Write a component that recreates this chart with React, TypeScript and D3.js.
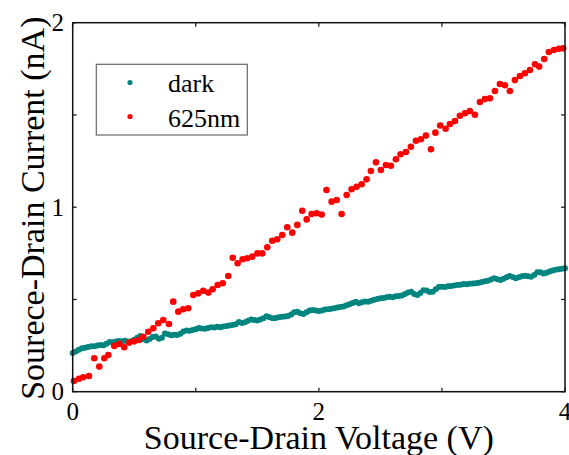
import React from "react";
import * as d3 from "d3";

const xTicksMajor = [0, 2, 4];
const xTicksAll = [0, 1, 2, 3, 4];
const yTicksMajor = [0, 1, 2];
const yTicksAll = [0, 0.5, 1, 1.5, 2];

const redVoltage = [
  0.01, 0.051, 0.086, 0.132, 0.175, 0.216, 0.257, 0.289, 0.338, 0.379,
  0.419, 0.46, 0.5, 0.539, 0.574, 0.614, 0.655, 0.695, 0.736, 0.782,
  0.817, 0.858, 0.898, 0.939, 0.98, 1.02, 1.061, 1.102, 1.137, 1.178,
  1.219, 1.264, 1.3, 1.34, 1.381, 1.418, 1.459, 1.5, 1.54, 1.581,
  1.621, 1.662, 1.703, 1.743, 1.784, 1.825, 1.865, 1.901, 1.941, 1.982,
  2.023, 2.062, 2.104, 2.145, 2.185, 2.226, 2.266, 2.307, 2.348, 2.388,
  2.423, 2.464, 2.504, 2.545, 2.585, 2.626, 2.664, 2.708, 2.748, 2.789,
  2.829, 2.87, 2.911, 2.947, 2.986, 3.03, 3.065, 3.106, 3.146, 3.187,
  3.227, 3.268, 3.309, 3.349, 3.39, 3.431, 3.471, 3.512, 3.552, 3.593,
  3.634, 3.674, 3.715, 3.756, 3.79, 3.831, 3.869, 3.91, 3.951, 3.985,
];
const redCurrent = [
  0.058, 0.07, 0.078, 0.085, 0.181, 0.136, 0.181, 0.199, 0.248, 0.259,
  0.241, 0.266, 0.273, 0.28, 0.298, 0.325, 0.344, 0.371, 0.389, 0.367,
  0.488, 0.434, 0.447, 0.452, 0.524, 0.533, 0.547, 0.537, 0.555, 0.578,
  0.588, 0.627, 0.726, 0.696, 0.718, 0.723, 0.732, 0.75, 0.75, 0.783,
  0.818, 0.826, 0.849, 0.891, 0.862, 0.904, 0.981, 0.934, 0.963, 0.967,
  0.96, 1.093, 1.03, 1.039, 0.963, 1.066, 1.097, 1.111, 1.124, 1.151,
  1.196, 1.243, 1.202, 1.229, 1.225, 1.26, 1.287, 1.299, 1.328, 1.36,
  1.368, 1.388, 1.314, 1.404, 1.443, 1.425, 1.451, 1.467, 1.496, 1.509,
  1.521, 1.501, 1.57, 1.586, 1.59, 1.63, 1.668, 1.661, 1.63, 1.689,
  1.711, 1.726, 1.744, 1.775, 1.762, 1.803, 1.841, 1.852, 1.859, 1.861,
];

const darkVoltage = [
  0.0, 0.025, 0.05, 0.075, 0.1, 0.125, 0.15, 0.175, 0.2, 0.225,
  0.25, 0.275, 0.3, 0.325, 0.35, 0.375, 0.4, 0.425, 0.45, 0.475,
  0.5, 0.525, 0.55, 0.575, 0.6, 0.625, 0.65, 0.675, 0.7, 0.725,
  0.75, 0.775, 0.8, 0.825, 0.85, 0.875, 0.9, 0.925, 0.95, 0.975,
  1.0, 1.025, 1.05, 1.075, 1.1, 1.125, 1.15, 1.175, 1.2, 1.225,
  1.25, 1.275, 1.3, 1.325, 1.35, 1.375, 1.4, 1.425, 1.45, 1.475,
  1.5, 1.525, 1.55, 1.575, 1.6, 1.625, 1.65, 1.675, 1.7, 1.725,
  1.75, 1.775, 1.8, 1.825, 1.85, 1.875, 1.9, 1.925, 1.95, 1.975,
  2.0, 2.025, 2.05, 2.075, 2.1, 2.125, 2.15, 2.175, 2.2, 2.225,
  2.25, 2.275, 2.3, 2.325, 2.35, 2.375, 2.4, 2.425, 2.45, 2.475,
  2.5, 2.525, 2.55, 2.575, 2.6, 2.625, 2.65, 2.675, 2.7, 2.725,
  2.75, 2.775, 2.8, 2.825, 2.85, 2.875, 2.9, 2.925, 2.95, 2.975,
  3.0, 3.025, 3.05, 3.075, 3.1, 3.125, 3.15, 3.175, 3.2, 3.225,
  3.25, 3.275, 3.3, 3.325, 3.35, 3.375, 3.4, 3.425, 3.45, 3.475,
  3.5, 3.525, 3.55, 3.575, 3.6, 3.625, 3.65, 3.675, 3.7, 3.725,
  3.75, 3.775, 3.8, 3.825, 3.85, 3.875, 3.9, 3.925, 3.95, 3.975,
  4.0,
];
const darkCurrent = [
  0.21, 0.218, 0.228, 0.235, 0.238, 0.242, 0.247, 0.246, 0.25, 0.253,
  0.252, 0.26, 0.27, 0.268, 0.272, 0.275, 0.273, 0.276, 0.271, 0.274,
  0.281, 0.293, 0.302, 0.284, 0.278, 0.286, 0.296, 0.299, 0.287, 0.292,
  0.316, 0.312, 0.306, 0.309, 0.307, 0.314, 0.326, 0.332, 0.33, 0.335,
  0.338, 0.345, 0.343, 0.341, 0.345, 0.35, 0.348, 0.352, 0.35, 0.353,
  0.356, 0.359, 0.362, 0.366, 0.378, 0.372, 0.376, 0.385, 0.392, 0.388,
  0.386, 0.392, 0.398, 0.409, 0.404, 0.398, 0.399, 0.404, 0.406, 0.408,
  0.41, 0.418, 0.43, 0.434, 0.425, 0.421, 0.43, 0.44, 0.443, 0.44,
  0.438, 0.44, 0.445, 0.447, 0.449, 0.452, 0.456, 0.459, 0.462, 0.468,
  0.474, 0.481, 0.488, 0.48, 0.485, 0.489, 0.487, 0.493, 0.498, 0.502,
  0.506, 0.508, 0.512, 0.515, 0.512, 0.517, 0.519, 0.522, 0.53, 0.538,
  0.542, 0.53, 0.524, 0.535, 0.55, 0.548, 0.54, 0.542, 0.555, 0.568,
  0.569, 0.567, 0.571, 0.573, 0.575, 0.578, 0.58, 0.584, 0.582, 0.585,
  0.587, 0.588, 0.591, 0.595, 0.598, 0.602, 0.608, 0.615, 0.61, 0.605,
  0.612, 0.62, 0.627, 0.622, 0.615, 0.62, 0.626, 0.629, 0.626, 0.623,
  0.632, 0.648, 0.647, 0.641, 0.645, 0.652, 0.657, 0.661, 0.664, 0.667,
  0.669,
];

const seriesNames = ["dark", "625nm"];
const seriesColors = ["#00857f", "#ff0000"];

const W = 569;
const H = 455;
const left = 72.7;
const right = 565;
const top = 22.7;
const bottom = 391.7;
const FONT = "'Liberation Serif', 'Times New Roman', serif";

export default function App() {
  const x = d3.scaleLinear().domain([0, 4]).range([left, right]);
  const y = d3.scaleLinear().domain([0, 2]).range([bottom, top]);
  const tickLen = 4;

  return (
    <div style={{ position: "absolute", left: 0, top: 0 }}>
      <svg width={W} height={H} style={{ display: "block", background: "#fff" }}>
        {/* data: dark */}
        <g fill={seriesColors[0]}>
          {darkVoltage.map((v, i) => (
            <circle key={"d" + i} cx={x(v)} cy={y(darkCurrent[i])} r={3} />
          ))}
        </g>
        {/* data: 625nm */}
        <g fill={seriesColors[1]}>
          {redVoltage.map((v, i) => (
            <circle key={"r" + i} cx={x(v)} cy={y(redCurrent[i])} r={3.3} />
          ))}
        </g>
        {/* frame */}
        <rect x={left} y={top} width={right - left} height={bottom - top} fill="none" stroke="#111" strokeWidth={1.5} />
        {/* ticks */}
        <g stroke="#111" strokeWidth={1.2}>
          {xTicksAll.map((t) => (
            <g key={"xt" + t}>
              <line x1={x(t)} x2={x(t)} y1={bottom} y2={bottom - tickLen} />
              <line x1={x(t)} x2={x(t)} y1={top} y2={top + tickLen} />
            </g>
          ))}
          {yTicksAll.map((t) => (
            <g key={"yt" + t}>
              <line x1={left} x2={left + tickLen} y1={y(t)} y2={y(t)} />
              <line x1={right} x2={right - tickLen} y1={y(t)} y2={y(t)} />
            </g>
          ))}
        </g>
        {/* tick labels */}
        <g fontFamily={FONT} fontSize={25} fill="#000">
          {xTicksMajor.map((t) => (
            <text key={"xl" + t} x={x(t)} y={420} textAnchor="middle">
              {t}
            </text>
          ))}
          {yTicksMajor.map((t) => (
            <text key={"yl" + t} x={64} y={y(t) + 8.5} textAnchor="end">
              {t}
            </text>
          ))}
        </g>
        {/* axis titles */}
        <text
          x={(left + right) / 2}
          y={449}
          textAnchor="middle"
          fontFamily={FONT}
          fontSize={34}
          fill="#000"
        >
          Source-Drain Voltage (V)
        </text>
        <text
          transform={`translate(43.5, ${(top + bottom) / 2 + 1}) rotate(-90)`}
          textAnchor="middle"
          fontFamily={FONT}
          fontSize={34}
          fill="#000"
        >
          Sourece-Drain Current (nA)
        </text>
        {/* legend */}
        <rect x={96.3} y={64.3} width={151} height={70.7} fill="#fff" stroke="#666" strokeWidth={1.2} />
        {seriesNames.map((name, i) => (
          <g key={name}>
            <circle cx={130} cy={82.5 + i * 34} r={2.6} fill={seriesColors[i]} />
            <text x={168} y={91.5 + i * 35} fontFamily={FONT} fontSize={26} fill="#000">
              {name}
            </text>
          </g>
        ))}
      </svg>
    </div>
  );
}
